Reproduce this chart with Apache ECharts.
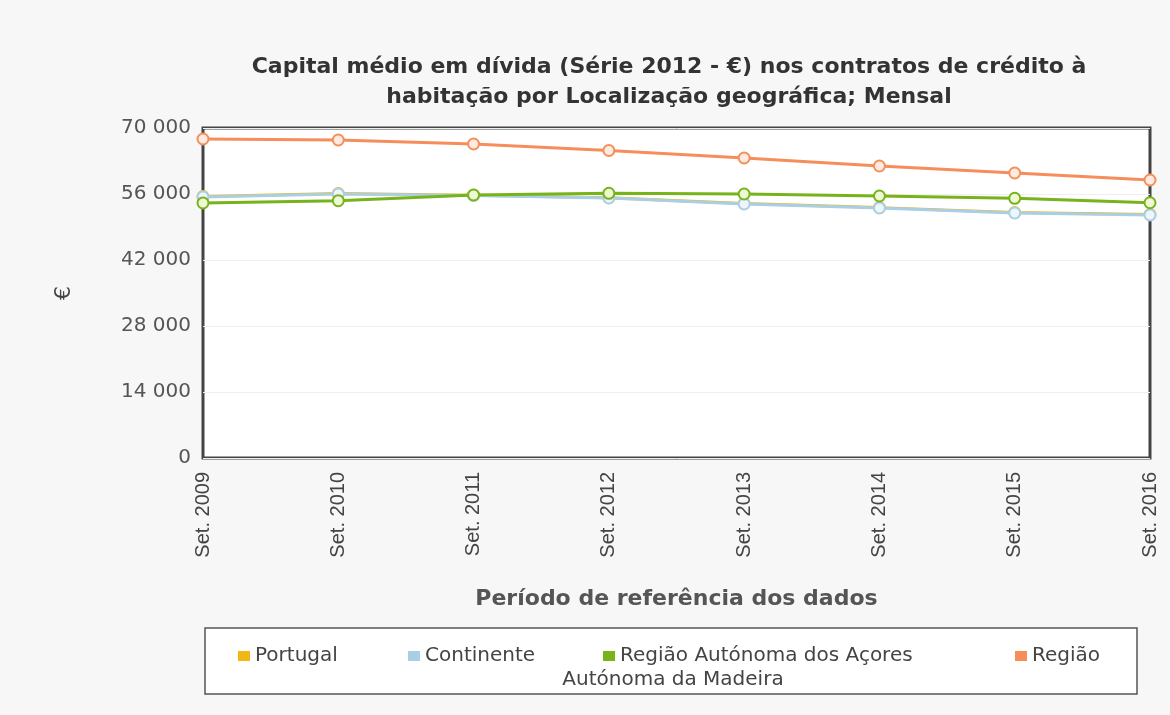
<!DOCTYPE html>
<html>
<head>
<meta charset="utf-8">
<script src="https://cdn.jsdelivr.net/npm/echarts@6/dist/echarts.min.js"></script>
<style>
html,body{margin:0;padding:0;background:#f7f7f7;}
#chart{width:1170px;height:715px;}
</style>
</head>
<body>
<div id="chart"></div>
<script>
const categories = ['Set. 2009','Set. 2010','Set. 2011','Set. 2012','Set. 2013','Set. 2014','Set. 2015','Set. 2016'];
const portugal   = [55450, 56080, 55760, 55230, 53960, 53110, 52050, 51630];
const continente = [55360, 56000, 55680, 55150, 53880, 53030, 51970, 51550];
const acores     = [54100, 54580, 55790, 56150, 56000, 55580, 55090, 54150];
const madeira    = [67670, 67450, 66610, 65230, 63640, 61940, 60450, 58970];
const seriesNames = ['Portugal','Continente','Região Autónoma dos Açores','Região Autónoma da Madeira'];
const yTicks = [0, 14000, 28000, 42000, 56000, 70000];

const colors = ['#f2b716','#a9cfe6','#77b31a','#f58e5a'];
const fills  = ['#fdf3d6','#eef6fb','#eef7d6','#fdebe1'];
const dataSets = [portugal, continente, acores, madeira];

const chart = echarts.init(document.getElementById('chart'));
const fmt = v => String(v).replace(/\B(?=(\d{3})+(?!\d))/g, ' ');

const legendLefts = [233, 403, 598, 1010];
const legends = seriesNames.map((n, i) => ({
  data: [{name: n, itemStyle: {color: colors[i], borderWidth: 0}}],
  left: legendLefts[i], top: 641,
  icon: 'rect', itemWidth: 12, itemHeight: 10,
  formatter: nm => nm === 'Região Autónoma da Madeira' ? 'Região' : nm,
  textStyle: {fontFamily: 'DejaVu Sans', fontSize: 20, color: '#444'},
  selectedMode: false
}));

chart.setOption({
  animation: false,
  backgroundColor: '#f7f7f7',
  title: {
    text: 'Capital médio em dívida (Série 2012 - €) nos contratos de crédito à\nhabitação por Localização geográfica; Mensal',
    left: 664, top: 47, textAlign: 'center',
    textStyle: {fontFamily: 'DejaVu Sans', fontWeight: 'bold', fontSize: 22, lineHeight: 30, color: '#333'}
  },
  grid: {left: 203, right: 20, top: 128, bottom: 257, show: true, backgroundColor: '#fff', borderColor: '#444', borderWidth: 3},
  graphic: [
    {type: 'rect', shape: {x: 205, y: 628, width: 932, height: 66}, style: {fill: '#fff', stroke: '#555', lineWidth: 1.5}, z: 0},
    {type: 'text', x: 673, y: 680, style: {text: 'Autónoma da Madeira', fontFamily: 'DejaVu Sans', fontSize: 20, fill: '#444', align: 'center', verticalAlign: 'middle'}, z: 10}
  ],
  legend: legends,
  xAxis: {
    type: 'category', data: categories, boundaryGap: false,
    axisLine: {show: false}, axisTick: {show: false},
    axisLabel: {rotate: 90, margin: 14, fontFamily: 'Liberation Sans', fontSize: 20, color: '#444'},
    name: 'Período de referência dos dados', nameLocation: 'middle', nameGap: 130,
    nameTextStyle: {fontFamily: 'DejaVu Sans', fontWeight: 'bold', fontSize: 22, color: '#555'}
  },
  yAxis: {
    type: 'value', min: yTicks[0], max: yTicks[yTicks.length-1], interval: yTicks[1]-yTicks[0],
    axisLine: {show: false}, axisTick: {show: false},
    splitLine: {lineStyle: {color: '#efefef', width: 1}},
    axisLabel: {formatter: fmt, margin: 12, fontFamily: 'DejaVu Sans', fontSize: 20, color: '#555'},
    name: '€', nameLocation: 'middle', nameGap: 128, nameRotate: 90,
    nameTextStyle: {fontFamily: 'DejaVu Sans', fontSize: 22, color: '#444'}
  },
  series: seriesNames.map((n, i) => ({
    name: n, type: 'line', data: dataSets[i],
    symbol: 'circle', symbolSize: 11,
    lineStyle: {color: colors[i], width: 3},
    itemStyle: {color: fills[i], borderColor: colors[i], borderWidth: 2},
    z: 2 + i
  }))
});
</script>
</body>
</html>
